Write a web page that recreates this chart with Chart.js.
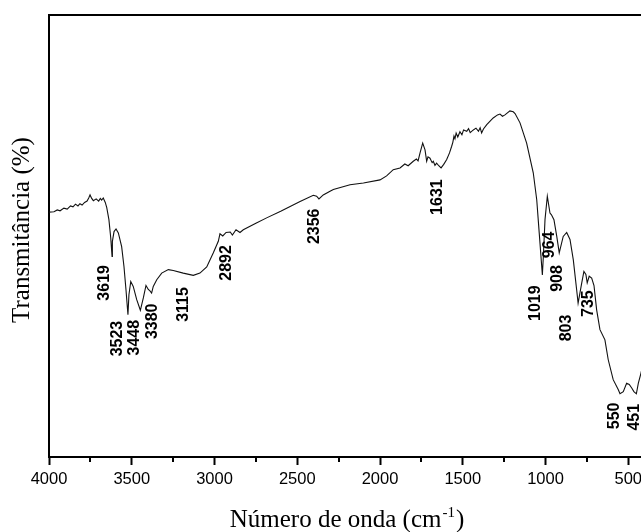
<!DOCTYPE html>
<html>
<head>
<meta charset="utf-8">
<script src="https://cdn.jsdelivr.net/npm/chart.js@4/dist/chart.umd.min.js"></script>
<style>
html,body{margin:0;padding:0;background:#fff;}
#wrap{width:641px;height:532px;position:relative;}
</style>
</head>
<body>
<div id="wrap"><canvas id="c" width="641" height="532"></canvas></div>
<script>
// ---- data ----
const wavenumbers = [
 4000,3970,3950,3933,3910,3890,3870,3855,3840,3825,3813,3800,3785,3770,3760,3752,3742,3732,3715,3700,
 3690,3682,3672,3660,3651,3638,3627,3619,3617,3607,3595,3581,3561,3547,3535,3523,3517,3506,3491,3470,
 3448,3430,3414,3400,3390,3380,3370,3349,3319,3279,3249,3189,3128,3088,3047,3007,2977,2967,2950,2930,
 2905,2892,2870,2846,2826,2750,2685,2600,2483,2403,2383,2369,2343,2302,2282,2181,2100,2000,1960,1920,
 1879,1850,1830,1799,1780,1770,1758,1742,1728,1718,1710,1698,1685,1678,1668,1658,1645,1631,1615,1597,
 1580,1567,1560,1553,1547,1540,1530,1517,1505,1495,1476,1465,1455,1436,1420,1405,1395,1386,1375,1355,
 1316,1290,1275,1260,1245,1215,1195,1184,1154,1114,1074,1053,1038,1019,1013,1003,989,973,964,949,
 932,917,893,872,852,832,812,803,781,768,756,748,736,721,707,691,671,641,621,591,
 560,550,530,510,494,479,466,451,439,423,400
];
const transmittance = [
 55.4,55.5,55.9,55.7,56.3,56.1,56.8,56.6,57.2,56.8,57.3,57.0,57.6,57.9,58.6,59.3,58.5,58.0,58.4,57.9,
 58.5,58.1,58.6,57.6,56.4,53.7,49.6,45.4,48.8,51.0,51.6,50.7,47.6,43.1,37.9,32.2,36.7,39.7,38.6,35.6,
 33.2,36.0,38.8,37.9,37.6,37.1,38.6,40.1,41.6,42.4,42.2,41.6,41.1,41.6,43.0,46.2,48.8,50.5,50.0,50.8,
 50.9,50.2,51.4,50.8,51.4,52.9,54.1,55.6,57.8,59.2,59.0,58.4,59.3,60.1,60.5,61.6,62.0,62.7,63.6,65.0,
 65.4,66.3,65.9,66.9,67.4,67.0,68.8,71.0,69.5,66.9,67.9,67.6,66.6,66.9,66.0,66.5,65.9,65.4,66.2,67.3,
 68.8,70.3,71.2,72.6,72.0,73.3,72.4,73.6,72.9,74.0,73.7,74.3,73.4,74.0,74.4,73.7,74.5,73.3,74.2,75.2,
 76.7,77.4,77.6,77.1,77.4,78.3,78.1,77.7,75.6,71.0,64.3,58.2,50.7,41.2,45.4,53.7,59.0,55.2,54.8,53.7,
 49.9,46.2,49.9,50.8,49.2,44.6,37.9,34.8,39.4,42.0,41.3,39.4,40.9,40.5,38.8,33.3,28.8,26.5,22.0,17.5,
 15.2,14.3,14.8,16.7,16.4,15.6,14.8,14.3,16.7,19.0,23.0
];
const xTickValues  = [4000,3500,3000,2500,2000,1500,1000,500];
const xMinorTicks  = [3750,3250,2750,2250,1750,1250,750];
const peakLabels   = ['3619','3523','3448','3380','3115','2892','2356','1631','1019','964','908','803','735','550','451'];
const peakLabelX   = [3665,3586,3485,3372,3189,2926,2398,1650,1058,975,928,874,742,585,461];
const peakLabelY   = [39.4,26.8,27.0,30.7,34.5,43.9,52.2,58.8,34.8,48.0,40.4,29.2,34.7,9.3,9.0];
const xTitleMain = 'Número de onda (cm';
const xTitleSup  = '-1';
const xTitleEnd  = ')';
const yTitleText = 'Transmitância (%)';

const points = wavenumbers.map((w, i) => ({x: w, y: transmittance[i]}));

const extrasPlugin = {
  id: 'extras',
  afterDatasetsDraw(chart) {
    const ctx = chart.ctx, sx = chart.scales.x, sy = chart.scales.y;
    ctx.save();
    ctx.fillStyle = '#000';
    ctx.font = 'bold 16px "Liberation Sans", Arial, sans-serif';
    ctx.textAlign = 'center';
    ctx.textBaseline = 'middle';
    peakLabels.forEach((t, i) => {
      const px = sx.getPixelForValue(peakLabelX[i]);
      const py = sy.getPixelForValue(peakLabelY[i]);
      ctx.save();
      ctx.translate(px, py);
      ctx.rotate(-Math.PI / 2);
      ctx.fillText(t, 0, 0);
      ctx.restore();
    });
    ctx.restore();
  },
  afterDraw(chart) {
    const ctx = chart.ctx, sx = chart.scales.x, area = chart.chartArea;
    ctx.save();
    // minor ticks
    ctx.strokeStyle = '#000';
    ctx.lineWidth = 2;
    xMinorTicks.forEach(v => {
      const px = Math.round(sx.getPixelForValue(v));
      ctx.beginPath();
      ctx.moveTo(px, area.bottom);
      ctx.lineTo(px, area.bottom + 5);
      ctx.stroke();
    });
    // x title with superscript
    ctx.fillStyle = '#000';
    ctx.textBaseline = 'alphabetic';
    ctx.textAlign = 'left';
    const mainFont = '25px "Liberation Serif", "Times New Roman", serif';
    const supFont = '15px "Liberation Serif", "Times New Roman", serif';
    ctx.font = mainFont; const w1 = ctx.measureText(xTitleMain).width; const w3 = ctx.measureText(xTitleEnd).width;
    ctx.font = supFont; const w2 = ctx.measureText(xTitleSup).width;
    const total = w1 + w2 + w3 + 2;
    let x0 = (area.left + area.right) / 2 - total / 2 + 2;
    const base = 527;
    ctx.font = mainFont; ctx.fillText(xTitleMain, x0, base);
    ctx.font = supFont; ctx.fillText(xTitleSup, x0 + w1 + 1, base - 10);
    ctx.font = mainFont; ctx.fillText(xTitleEnd, x0 + w1 + w2 + 2, base);
    // y title
    ctx.save();
    ctx.translate(22, 230);
    ctx.rotate(-Math.PI / 2);
    ctx.textAlign = 'center';
    ctx.textBaseline = 'middle';
    ctx.font = mainFont;
    ctx.fillText(yTitleText, 0, 0);
    ctx.restore();
    ctx.restore();
  }
};

new Chart(document.getElementById('c'), {
  type: 'scatter',
  data: {
    datasets: [{
      data: points,
      showLine: true,
      borderColor: '#111',
      borderWidth: 1.1,
      pointRadius: 0,
      tension: 0,
      fill: false
    }]
  },
  options: {
    responsive: false,
    animation: false,
    devicePixelRatio: 1,
    layout: { padding: { top: 15, left: 0, right: 0, bottom: 0 } },
    plugins: { legend: { display: false }, tooltip: { enabled: false } },
    scales: {
      x: {
        type: 'linear', position: 'bottom', reverse: true, min: 423, max: 4000,
        afterBuildTicks: s => { s.ticks = xTickValues.map(v => ({value: v})); },
        afterFit: s => { s.height = 75; s.paddingLeft = 0; s.paddingRight = 0; },
        ticks: {
          color: '#000', padding: 5, maxRotation: 0, autoSkip: false,
          font: { family: '"Liberation Sans", Arial, sans-serif', size: 16.5 },
          callback: v => String(v)
        },
        grid: { drawOnChartArea: false, drawTicks: true, tickLength: 8, tickWidth: 2, tickColor: '#000' },
        border: { display: true, color: '#000', width: 2 }
      },
      x2: {
        type: 'linear', position: 'top', reverse: true, min: 423, max: 4000,
        afterFit: s => { s.height = 0; s.paddingLeft = 0; s.paddingRight = 0; },
        ticks: { display: false },
        grid: { drawOnChartArea: false, drawTicks: false },
        border: { display: true, color: '#000', width: 2 }
      },
      y: {
        type: 'linear', position: 'left', min: 0, max: 100,
        afterFit: s => { s.width = 49; },
        ticks: { display: false },
        grid: { drawOnChartArea: false, drawTicks: false },
        border: { display: true, color: '#000', width: 2 }
      }
    }
  },
  plugins: [extrasPlugin]
});
</script>
</body>
</html>
